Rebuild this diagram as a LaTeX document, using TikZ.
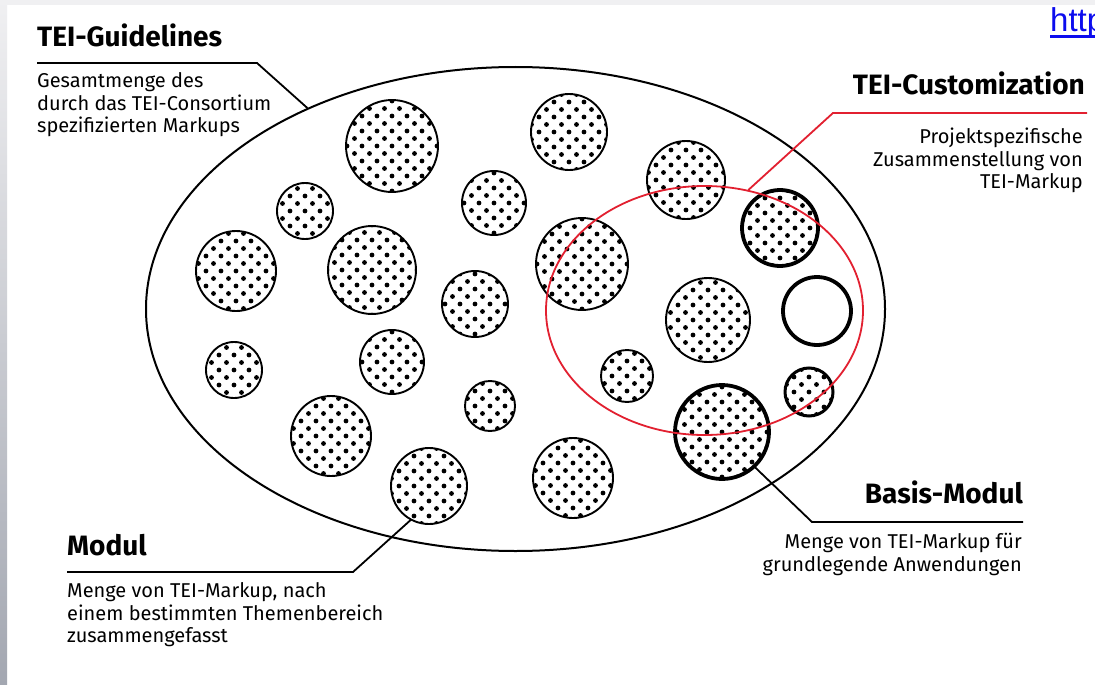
\documentclass[tikz,border=0pt]{standalone}
\usepackage{fontspec}
\setmainfont{Fira Sans}
\newfontfamily\linkfont{Liberation Sans}
\usetikzlibrary{shapes.geometric}
\definecolor{custred}{RGB}{226,32,48}
\definecolor{linkblue}{RGB}{12,12,238}
\definecolor{striptop}{RGB}{240,240,242}
\definecolor{stripbot}{RGB}{163,167,177}
\tikzset{
  dotpattern/.style={path picture={
    \begin{scope}[shift={(path picture bounding box.center)}]
      \foreach \j in {-7,...,7}{
        \pgfmathsetmacro\off{mod(abs(\j),2)*7.5}
        \foreach \i in {-4,...,4}{\fill (\i*15+\off,\j*7.5) circle (2.4pt);}
      }
    \end{scope}}},
  disk/.style={circle, draw, inner sep=0pt, outer sep=0pt, line width=1.9pt, minimum size=#1pt, dotpattern},
  thickdisk/.style={disk=#1, line width=3.8pt},
  emptydisk/.style={circle, draw, inner sep=0pt, outer sep=0pt, line width=3.8pt, minimum size=#1pt},
  titletext/.style={inner sep=0pt, font=\bfseries\fontsize{28}{32}\selectfont},
  desctext/.style={inner sep=0pt, font=\fontsize{20}{22.8}\selectfont},
  leader/.style={line width=1.8pt, line join=miter},
}
\begin{document}
\begin{tikzpicture}[x=1pt, y=-1pt]
\useasboundingbox (0,0) rectangle (1095,685);
\fill[white] (0,0) rectangle (1095,685);
\fill[striptop] (0,0) rectangle (1095,5);
\shade[top color=striptop, bottom color=stripbot] (0,0) rectangle (7,685);

% link fragment
\node[inner sep=0pt, anchor=base west, text=linkblue, font=\linkfont\fontsize{33}{36}\selectfont] (link) at (1050,32) {http};
\fill[linkblue] (1050,35) rectangle (1095,38);

% TEI guidelines ellipse
\node[ellipse, draw, line width=2pt, inner sep=0pt, minimum width=739pt, minimum height=484pt] (guide) at (515.5,309) {};

% modules
\node[disk=92] (c1) at (392,146) {};
\node[disk=76] (c2) at (569,132) {};
\node[disk=78] (c3) at (686,180) {};
\node[disk=56] (c4) at (305,211) {};
\node[disk=64] (c5) at (494,203) {};
\node[disk=80] (c6) at (236,271) {};
\node[disk=88] (c7) at (372,270) {};
\node[disk=92] (c8) at (582,264) {};
\node[thickdisk=76] (c9) at (780,228) {};
\node[disk=66] (c10) at (475,304) {};
\node[disk=84] (c11) at (708,320) {};
\node[emptydisk=68] (c12) at (817,311) {};
\node[disk=56] (c13) at (234,370) {};
\node[disk=64] (c14) at (392,362) {};
\node[disk=52] (c15) at (627,376) {};
\node[thickdisk=48, line width=3pt] (c16) at (809,392) {};
\node[disk=50] (c17) at (490,406) {};
\node[disk=80] (c18) at (331,436) {};
\node[thickdisk=94] (c19) at (722,432) {};
\node[disk=76] (c20) at (429,486) {};
\node[disk=80] (c21) at (573,478) {};

% customization ellipse
\node[ellipse, draw=custred, line width=1.8pt, inner sep=0pt, minimum width=317pt, minimum height=249pt] (cust) at (704.5,310.5) {};

% TEI-Guidelines label
\node[titletext, anchor=base west] (gtitle) at (37,47) {TEI-Guidelines};
\node[desctext, anchor=north west, align=left] (gdesc) at (37,70) {\rule{0pt}{17pt}Gesamtmenge des\\durch das TEI-Consortium\\spezifizierten Markups};
\coordinate (gstart) at (37,63);
\coordinate (gbend) at (257,63);
\draw[leader] (gstart) -- (gbend) -- (guide.136);

% TEI-Customization label
\node[titletext, anchor=base east] (ctitle) at (1085,95) {TEI-Customization};
\node[desctext, anchor=north east, align=right] (cdesc) at (1083,126) {\rule{0pt}{17pt}Projektspezifische\\Zusammenstellung von\\TEI-Markup};
\coordinate (cend) at (1087,113);
\coordinate (cbend) at (833,113);
\draw[leader, draw=custred] (cend) -- (cbend) -- (cust.70);

% Basis-Modul label
\node[titletext, anchor=base east] (btitle) at (1023,503) {Basis-Modul};
\node[desctext, anchor=north east, align=right] (bdesc) at (1022,531) {\rule{0pt}{17pt}Menge von TEI-Markup für\\grundlegende Anwendungen};
\coordinate (bend) at (1023,522);
\coordinate (bbend) at (812,522);
\draw[leader] (bend) -- (bbend) -- (c19.-47);

% Modul label
\node[titletext, anchor=base west] (mtitle) at (67,555) {Modul};
\node[desctext, anchor=north west, align=left] (mdesc) at (67,580) {\rule{0pt}{17pt}Menge von TEI-Markup, nach\\einem bestimmten Themenbereich\\zusammengefasst};
\coordinate (mstart) at (67,572);
\coordinate (mbend) at (353,572);
\draw[leader] (mstart) -- (mbend) -- (c20.-118);
\end{tikzpicture}
\end{document}
